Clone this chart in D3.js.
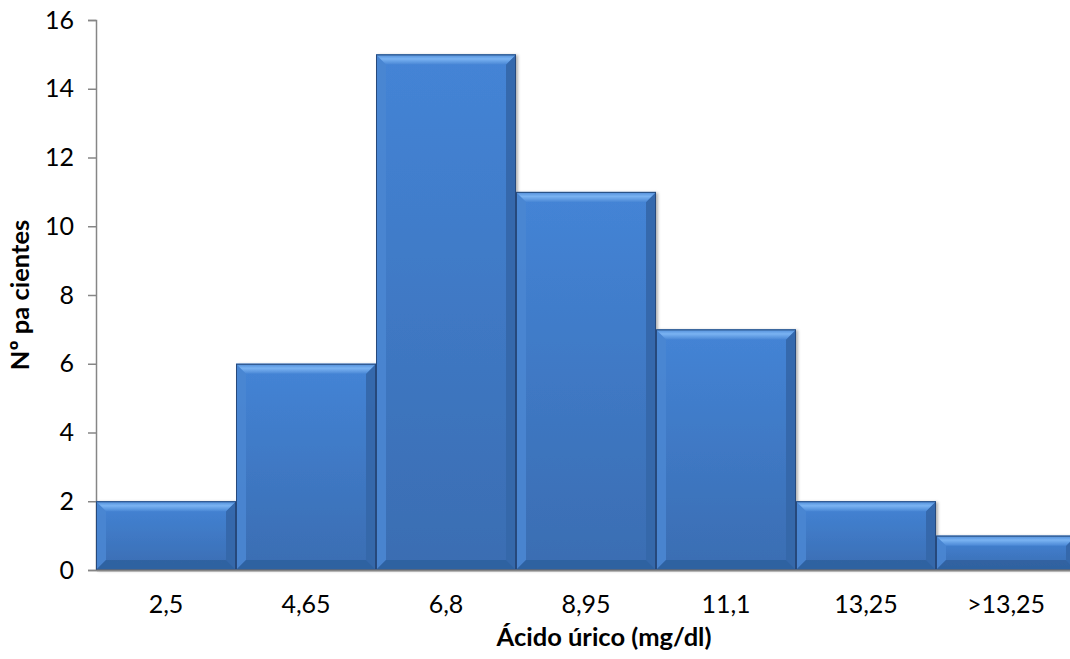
<!DOCTYPE html>
<html>
<head>
<meta charset="utf-8">
<script src="https://cdn.jsdelivr.net/npm/d3@7"></script>
<style>
  html, body { margin: 0; padding: 0; background: #fff; }
  svg { display: block; font-family: Lato, "Open Sans", sans-serif; }
</style>
</head>
<body>
<svg id="chart" width="1070" height="659"></svg>
<script>
// Uric acid histogram: number of patients per class
const categories = ["2,5", "4,65", "6,8", "8,95", "11,1", "13,25", ">13,25"];
const counts = [2, 6, 15, 11, 7, 2, 1];
const yTicks = [0, 2, 4, 6, 8, 10, 12, 14, 16];
const xTitle = "Ácido úrico (mg/dl)";
const yTitle = "Nº pa cientes";

const svg = d3.select("#chart");
const plot = { left: 96, right: 1076, top: 20, bottom: 570 };
const tickFont = 25;
const titleFont = 25.5;

const x = d3.scaleBand().domain(categories).range([plot.left, plot.right]).padding(0);
const y = d3.scaleLinear().domain([0, 16]).range([plot.bottom, plot.top]);

const defs = svg.append("defs");
const face = defs.append("linearGradient").attr("id", "face").attr("x1", 0).attr("y1", 0).attr("x2", 0).attr("y2", 1);
face.append("stop").attr("offset", "0%").attr("stop-color", "#4484d6");
face.append("stop").attr("offset", "100%").attr("stop-color", "#3a6db2");
const topG = defs.append("linearGradient").attr("id", "bevelTop").attr("x1", 0).attr("y1", 0).attr("x2", 0).attr("y2", 1);
topG.append("stop").attr("offset", "0%").attr("stop-color", "#4e8bd8");
topG.append("stop").attr("offset", "45%").attr("stop-color", "#7ab3f2");
topG.append("stop").attr("offset", "100%").attr("stop-color", "#4a88d6");
const shadow = defs.append("filter").attr("id", "shadow").attr("x", "-10%").attr("y", "-10%").attr("width", "130%").attr("height", "130%");
shadow.append("feDropShadow").attr("dx", 2).attr("dy", 1).attr("stdDeviation", 1.5)
  .attr("flood-color", "#000").attr("flood-opacity", 0.3);

// Y axis
const yAxis = d3.axisLeft(y).tickValues(yTicks).tickSize(8).tickPadding(14).tickFormat(d3.format("d"));
const gy = svg.append("g").attr("transform", `translate(${plot.left},0)`).call(yAxis);
gy.select(".domain").attr("stroke", "#868686").attr("stroke-width", 1.5);
gy.selectAll(".tick line").attr("stroke", "#868686").attr("stroke-width", 1.5);
gy.selectAll(".tick text").attr("font-size", tickFont).attr("fill", "#000")
  .attr("font-family", "Lato, 'Open Sans', sans-serif");

// Bars with bevelled edges
const bars = svg.append("g").selectAll("g.bar").data(counts).join("g").attr("class", "bar")
  .attr("filter", "url(#shadow)");

bars.each(function (d, i) {
  const g = d3.select(this);
  const x0 = x(categories[i]), x1 = x0 + x.bandwidth();
  const y0 = y(d), y1 = y(0);
  const b = Math.min(10, (y1 - y0) / 2.2);
  const poly = pts => pts.map(p => p.join(",")).join(" ");
  g.append("rect").attr("x", x0).attr("y", y0).attr("width", x1 - x0).attr("height", y1 - y0)
    .attr("fill", "url(#face)");
  // left edge
  g.append("polygon").attr("points", poly([[x0, y0], [x0 + b, y0 + b], [x0 + b, y1 - b], [x0, y1]]))
    .attr("fill", "#4a86d2").attr("opacity", 0.9);
  // right edge
  g.append("polygon").attr("points", poly([[x1, y0], [x1 - b, y0 + b], [x1 - b, y1 - b], [x1, y1]]))
    .attr("fill", "#3466a8").attr("opacity", 0.9);
  // bottom edge
  g.append("polygon").attr("points", poly([[x0, y1], [x0 + b, y1 - b], [x1 - b, y1 - b], [x1, y1]]))
    .attr("fill", "#2f609f").attr("opacity", 0.9);
  // top edge
  g.append("polygon").attr("points", poly([[x0, y0], [x1, y0], [x1 - b, y0 + b], [x0 + b, y0 + b]]))
    .attr("fill", "url(#bevelTop)");
  g.append("rect").attr("x", x0 + 0.5).attr("y", y0 + 0.5).attr("width", x1 - x0 - 1).attr("height", y1 - y0 - 1)
    .attr("fill", "none").attr("stroke", "#254a7c").attr("stroke-width", 1);
});

// X axis line and category labels
const xAxis = d3.axisBottom(x).tickSize(0).tickPadding(25);
const gx = svg.append("g").attr("transform", `translate(0,${plot.bottom})`).call(xAxis);
gx.select(".domain").attr("stroke", "#868686").attr("stroke-width", 2);
gx.selectAll(".tick text").attr("font-size", tickFont).attr("fill", "#000")
  .attr("font-family", "Lato, 'Open Sans', sans-serif");

// Axis titles
svg.append("text").attr("x", 604).attr("y", 646)
  .attr("text-anchor", "middle").attr("font-size", titleFont).attr("font-weight", "bold").text(xTitle);
svg.append("text").attr("transform", `translate(29,295) rotate(-90)`)
  .attr("text-anchor", "middle").attr("font-size", titleFont).attr("font-weight", "bold").text(yTitle);
</script>
</body>
</html>
